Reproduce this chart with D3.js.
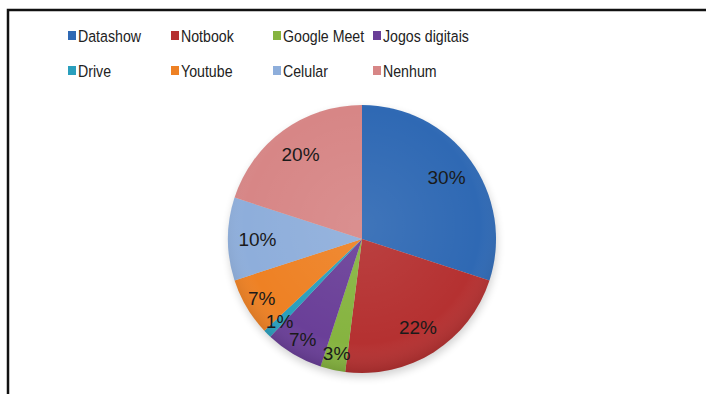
<!DOCTYPE html>
<html lang="pt">
<head>
<meta charset="UTF-8">
<title>Pie</title>
<style>
  body { margin: 0; background: #fff; }
  svg { display: block; }
  text { font-family: "Liberation Sans", Arial, sans-serif; }
</style>
</head>
<body>
<script src="https://d3js.org/d3.v7.min.js"></script>
<script>
	// dados
	var categories = ["Datashow", "Notbook", "Google Meet", "Jogos digitais", "Drive", "Youtube", "Celular", "Nenhum"];
	var values = [30, 22, 3, 7, 1, 7, 10, 20];
	var colors = ["#2f69b4", "#b53131", "#86b440", "#6a3f98", "#2a9fbd", "#ee8124", "#8eaedb", "#d78686"];

	var width = 706, height = 394;
	var cx = 362, cy = 239, radius = 134;

	var svg = d3.select("body").append("svg")
		.attr("width", width).attr("height", height);

	// moldura
	svg.append("rect").attr("x", 8).attr("y", 10).attr("width", 720).attr("height", 420)
		.attr("fill", "#fff").attr("stroke", "#111").attr("stroke-width", 2.5);

	var defs = svg.append("defs");
	var shade = defs.append("radialGradient").attr("id", "shade")
		.attr("cx", "50%").attr("cy", "45%").attr("r", "55%");
	shade.append("stop").attr("offset", "0%").attr("stop-color", "#fff").attr("stop-opacity", 0.08);
	shade.append("stop").attr("offset", "80%").attr("stop-color", "#fff").attr("stop-opacity", 0);
	shade.append("stop").attr("offset", "100%").attr("stop-color", "#000").attr("stop-opacity", 0.12);
	var blur = defs.append("filter").attr("id", "blur").attr("x", "-20%").attr("y", "-20%").attr("width", "140%").attr("height", "140%");
	blur.append("feGaussianBlur").attr("stdDeviation", 4);

	var g = svg.append("g").attr("transform", "translate(" + cx + "," + cy + ")");

	// sombra
	g.append("circle").attr("cx", 1).attr("cy", 4).attr("r", radius)
		.attr("fill", "#000").attr("opacity", 0.18).attr("filter", "url(#blur)");

	var pie = d3.pie().sort(null).value(function(d){ return d; });
	var arcs = pie(values);
	var arc = d3.arc().innerRadius(0).outerRadius(radius);
	var labelArc = d3.arc().innerRadius(radius * 0.78).outerRadius(radius * 0.78);
	var smallArc = d3.arc().innerRadius(radius * 0.87).outerRadius(radius * 0.87);

	g.selectAll("path.slice").data(arcs).enter().append("path")
		.attr("class", "slice")
		.attr("d", arc)
		.attr("fill", function(d, i){ return colors[i]; });

	g.append("circle").attr("r", radius).attr("fill", "url(#shade)");

	g.selectAll("text.lbl").data(arcs).enter().append("text")
		.attr("class", "lbl")
		.attr("transform", function(d){
			var a = (d.data <= 7 && d.startAngle > Math.PI) ? smallArc : labelArc;
			return "translate(" + a.centroid(d) + ")";
		})
		.attr("text-anchor", "middle")
		.attr("dy", "0.36em")
		.attr("font-size", 19)
		.attr("fill", "#1a1a1a")
		.text(function(d){ return d.data + "%"; });

	// legenda
	var legX = [68, 171, 273, 373];
	var legY = [36, 71];
	var leg = svg.selectAll("g.leg").data(categories).enter().append("g")
		.attr("class", "leg")
		.attr("transform", function(d, i){ return "translate(" + legX[i % 4] + "," + legY[Math.floor(i / 4)] + ")"; });
	leg.append("rect").attr("x", 0).attr("y", -5).attr("width", 8).attr("height", 9)
		.attr("fill", function(d, i){ return colors[i]; });
	leg.append("text").attr("transform", "translate(10,0) scale(0.86,1)").attr("dy", "0.36em")
		.attr("font-size", 16.5).attr("fill", "#222")
		.text(function(d){ return d; });
</script>
</body>
</html>
